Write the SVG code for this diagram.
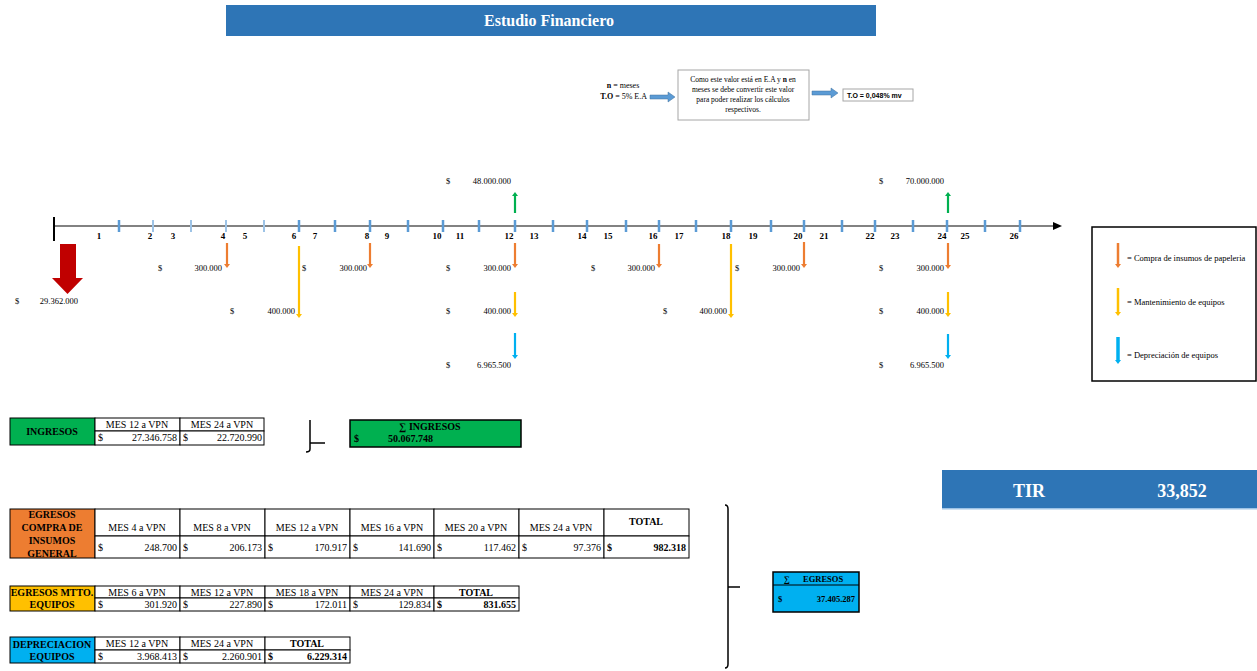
<svg xmlns="http://www.w3.org/2000/svg" width="1257" height="671" viewBox="0 0 1257 671">
<style>
text{font-family:"Liberation Serif","Times New Roman",serif;fill:#000}
.tk{stroke:#5b9bd5;stroke-width:2.5}
.tkl{stroke:#9dc3e6;stroke-width:2}
.num{font-size:9px;font-weight:bold;text-anchor:middle}
.m{font-size:8.5px}
.e{text-anchor:end}
.c{text-anchor:middle}
.cell{fill:#fff;stroke:#000;stroke-width:1}
.th{font-size:10px;text-anchor:middle}
.b{font-weight:bold}
.lg{font-size:8.5px}
</style>
<defs>
<marker id="ho" markerWidth="5" markerHeight="6" refX="1" refY="3" orient="auto" markerUnits="userSpaceOnUse"><path d="M0,0 L4,3 L0,6 Z" fill="#ed7d31"/></marker>
<marker id="hy" markerWidth="5" markerHeight="6" refX="1" refY="3" orient="auto" markerUnits="userSpaceOnUse"><path d="M0,0 L4,3 L0,6 Z" fill="#ffc000"/></marker>
<marker id="hb" markerWidth="5" markerHeight="6" refX="1" refY="3" orient="auto" markerUnits="userSpaceOnUse"><path d="M0,0 L4,3 L0,6 Z" fill="#00b0f0"/></marker>
<marker id="hg" markerWidth="5" markerHeight="6" refX="1" refY="3" orient="auto" markerUnits="userSpaceOnUse"><path d="M0,0 L4,3 L0,6 Z" fill="#00b050"/></marker>
</defs>

<g id="title">
<rect x="226" y="5" width="650" height="31" fill="#2e75b6"/>
<text x="549" y="26" font-size="16" font-weight="bold" text-anchor="middle" style="fill:#fff">Estudio Financiero</text>
</g>

<g id="formula">
<text x="623" y="88" font-size="8" text-anchor="middle"><tspan font-weight="bold">n</tspan> = meses</text>
<text x="647" y="99" font-size="8" text-anchor="end"><tspan font-weight="bold">T.O</tspan> = 5% E.A</text>
<path d="M650,95 L668,95 L668,92 L675,97 L668,102 L668,99 L650,99 Z" fill="#5b9bd5" stroke="#41719c" stroke-width="0.5"/>
<rect x="678" y="70" width="131" height="50" fill="#fff" stroke="#a6a6a6" stroke-width="1"/>
<text x="743" y="82" font-size="7.5" text-anchor="middle">Como este valor está en E.A y <tspan font-weight="bold">n</tspan> en</text>
<text x="743" y="92" font-size="7.5" text-anchor="middle">meses se debe convertir este valor</text>
<text x="743" y="102" font-size="7.5" text-anchor="middle">para poder realizar  los cálculos</text>
<text x="743" y="112" font-size="7.5" text-anchor="middle">respectivos.</text>
<path d="M812,91 L831,91 L831,88 L838,93 L831,98 L831,95 L812,95 Z" fill="#5b9bd5" stroke="#41719c" stroke-width="0.5"/>
<rect x="843" y="89" width="70" height="12" fill="#fff" stroke="#a6a6a6" stroke-width="1"/>
<text x="847" y="98" font-size="7" font-weight="bold" style="font-family:'Liberation Sans',Arial,sans-serif">T.O = 0,048% mv</text>
</g>

<g id="timeline">
<line x1="54" y1="226" x2="1054" y2="226" stroke="#595959" stroke-width="1.5"/>
<path d="M1053,222 L1062,226 L1053,230 Z" fill="#000"/>
<line x1="54" y1="217" x2="54" y2="241" stroke="#000" stroke-width="2"/>
<g>
<line class="tk" x1="119" y1="220" x2="119" y2="232"/>
<line class="tkl" x1="153" y1="220" x2="153" y2="232"/>
<line class="tkl" x1="191" y1="220" x2="191" y2="232"/>
<line class="tkl" x1="226" y1="220" x2="226" y2="232"/>
<line class="tkl" x1="264" y1="220" x2="264" y2="232"/>
<line class="tk" x1="299" y1="220" x2="299" y2="232"/>
<line class="tk" x1="335" y1="220" x2="335" y2="232"/>
<line class="tk" x1="370" y1="220" x2="370" y2="232"/>
<line class="tk" x1="408" y1="220" x2="408" y2="232"/>
<line class="tk" x1="443" y1="220" x2="443" y2="232"/>
<line class="tk" x1="479" y1="220" x2="479" y2="232"/>
<line class="tk" x1="515" y1="220" x2="515" y2="232"/>
<line class="tk" x1="553" y1="220" x2="553" y2="232"/>
<line class="tk" x1="587" y1="220" x2="587" y2="232"/>
<line class="tk" x1="626" y1="220" x2="626" y2="232"/>
<line class="tk" x1="659" y1="220" x2="659" y2="232"/>
<line class="tk" x1="696" y1="220" x2="696" y2="232"/>
<line class="tk" x1="731" y1="220" x2="731" y2="232"/>
<line class="tk" x1="771" y1="220" x2="771" y2="232"/>
<line class="tk" x1="804" y1="220" x2="804" y2="232"/>
<line class="tk" x1="842" y1="220" x2="842" y2="232"/>
<line class="tk" x1="875" y1="220" x2="875" y2="232"/>
<line class="tk" x1="913" y1="220" x2="913" y2="232"/>
<line class="tk" x1="947" y1="220" x2="947" y2="232"/>
<line class="tk" x1="985" y1="220" x2="985" y2="232"/>
<line class="tk" x1="1020" y1="220" x2="1020" y2="232"/>
</g>
<g>
<text class="num" x="99" y="239">1</text>
<text class="num" x="150" y="239">2</text>
<text class="num" x="173" y="239">3</text>
<text class="num" x="223" y="239">4</text>
<text class="num" x="245" y="239">5</text>
<text class="num" x="294" y="239">6</text>
<text class="num" x="315" y="239">7</text>
<text class="num" x="367" y="239">8</text>
<text class="num" x="387" y="239">9</text>
<text class="num" x="437" y="239">10</text>
<text class="num" x="460" y="239">11</text>
<text class="num" x="509" y="239">12</text>
<text class="num" x="534" y="239">13</text>
<text class="num" x="582" y="239">14</text>
<text class="num" x="608" y="239">15</text>
<text class="num" x="653" y="239">16</text>
<text class="num" x="679" y="239">17</text>
<text class="num" x="726" y="239">18</text>
<text class="num" x="753" y="239">19</text>
<text class="num" x="798" y="239">20</text>
<text class="num" x="824" y="239">21</text>
<text class="num" x="870" y="239">22</text>
<text class="num" x="895" y="239">23</text>
<text class="num" x="942" y="239">24</text>
<text class="num" x="965" y="239">25</text>
<text class="num" x="1014" y="239">26</text>
</g>
</g>

<g id="connectors" stroke-width="2.2">
<path d="M60,244 L76,244 L76,278 L83,278 L67.5,294 L52,278 L60,278 Z" fill="#c00000" stroke="none"/>
<line x1="515" y1="213" x2="515" y2="195" stroke="#00b050" marker-end="url(#hg)"/>
<line x1="948" y1="213" x2="948" y2="195" stroke="#00b050" marker-end="url(#hg)"/>
<line x1="227" y1="243" x2="227" y2="265" stroke="#ed7d31" marker-end="url(#ho)"/>
<line x1="370" y1="243" x2="370" y2="265" stroke="#ed7d31" marker-end="url(#ho)"/>
<line x1="515" y1="243" x2="515" y2="265" stroke="#ed7d31" marker-end="url(#ho)"/>
<line x1="659" y1="244" x2="659" y2="265" stroke="#ed7d31" marker-end="url(#ho)"/>
<line x1="804" y1="242" x2="804" y2="265" stroke="#ed7d31" marker-end="url(#ho)"/>
<line x1="948" y1="243" x2="948" y2="266" stroke="#ed7d31" marker-end="url(#ho)"/>
<line x1="299" y1="246" x2="299" y2="315" stroke="#ffc000" marker-end="url(#hy)"/>
<line x1="731" y1="244" x2="731" y2="315" stroke="#ffc000" marker-end="url(#hy)"/>
<line x1="515" y1="292" x2="515" y2="314" stroke="#ffc000" marker-end="url(#hy)"/>
<line x1="948" y1="292" x2="948" y2="314" stroke="#ffc000" marker-end="url(#hy)"/>
<line x1="515" y1="333" x2="515" y2="356" stroke="#00b0f0" marker-end="url(#hb)"/>
<line x1="948" y1="334" x2="948" y2="356" stroke="#00b0f0" marker-end="url(#hb)"/>
</g>

<g id="cashflow-labels">
<text class="m" x="15" y="304">$</text><text class="m e" x="78" y="304">29.362.000</text>
<text class="m" x="446" y="184">$</text><text class="m e" x="511" y="184">48.000.000</text>
<text class="m" x="879" y="184">$</text><text class="m e" x="944" y="184">70.000.000</text>
<text class="m" x="158" y="271">$</text><text class="m e" x="222" y="271">300.000</text>
<text class="m" x="302" y="271">$</text><text class="m e" x="367" y="271">300.000</text>
<text class="m" x="446" y="271">$</text><text class="m e" x="511" y="271">300.000</text>
<text class="m" x="591" y="271">$</text><text class="m e" x="655" y="271">300.000</text>
<text class="m" x="735" y="271">$</text><text class="m e" x="800" y="271">300.000</text>
<text class="m" x="879" y="271">$</text><text class="m e" x="944" y="271">300.000</text>
<text class="m" x="230" y="314">$</text><text class="m e" x="295" y="314">400.000</text>
<text class="m" x="446" y="314">$</text><text class="m e" x="511" y="314">400.000</text>
<text class="m" x="663" y="314">$</text><text class="m e" x="727" y="314">400.000</text>
<text class="m" x="879" y="314">$</text><text class="m e" x="944" y="314">400.000</text>
<text class="m" x="446" y="368">$</text><text class="m e" x="511" y="368">6.965.500</text>
<text class="m" x="879" y="368">$</text><text class="m e" x="944" y="368">6.965.500</text>
</g>

<g id="legend">
<rect x="1092" y="227" width="164" height="154" fill="#fff" stroke="#000" stroke-width="1.5"/>
<line x1="1118" y1="243" x2="1118" y2="265" stroke="#ed7d31" stroke-width="2.5" marker-end="url(#ho)"/>
<text class="lg" x="1127" y="261">= Compra de insumos de papeleria</text>
<line x1="1118" y1="288" x2="1118" y2="313" stroke="#ffc000" stroke-width="2.5" marker-end="url(#hy)"/>
<text class="lg" x="1127" y="305">= Mantenimiento de equipos</text>
<line x1="1118" y1="337" x2="1118" y2="361" stroke="#00b0f0" stroke-width="3.5" marker-end="url(#hb)"/>
<text class="lg" x="1127" y="358">= Depreciación de equipos</text>
</g>

<g id="ingresos">
<rect x="10" y="418" width="85" height="27" fill="#00b050" stroke="#000"/>
<text class="th b" x="52" y="435">INGRESOS</text>
<rect class="cell" x="95" y="418" width="85" height="13"/>
<rect class="cell" x="180" y="418" width="84" height="13"/>
<rect class="cell" x="95" y="431" width="85" height="14"/>
<rect class="cell" x="180" y="431" width="84" height="14"/>
<text class="th" x="137" y="428">MES 12 a VPN</text>
<text class="th" x="222" y="428">MES 24 a VPN</text>
<text x="98" y="441" font-size="10">$</text><text x="177" y="441" font-size="10" text-anchor="end">27.346.758</text>
<text x="183" y="441" font-size="10">$</text><text x="262" y="441" font-size="10" text-anchor="end">22.720.990</text>
</g>

<g id="bracket-ingresos" fill="none" stroke="#000" stroke-width="1.5">
<path d="M310,420 L310,449 Q310,452 306,452"/>
<path d="M310,443 L325,443"/>
</g>

<g id="suma-ingresos">
<rect x="350" y="420" width="171" height="27" fill="#00b050" stroke="#000" stroke-width="1.5"/>
<text class="th b" x="430" y="430">∑ INGRESOS</text>
<text x="354" y="442" font-size="10" font-weight="bold">$</text>
<text x="388" y="442" font-size="10" font-weight="bold">50.067.748</text>
</g>

<g id="egresos-compra">
<rect x="10" y="509" width="85" height="49" fill="#ed7d31" stroke="#000"/>
<text class="th b" x="52" y="518">EGRESOS</text>
<text class="th b" x="52" y="531">COMPRA DE</text>
<text class="th b" x="52" y="544">INSUMOS</text>
<text class="th b" x="52" y="557">GENERAL</text>
<rect class="cell" x="95" y="509" width="85" height="27"/>
<rect class="cell" x="180" y="509" width="85" height="27"/>
<rect class="cell" x="265" y="509" width="85" height="27"/>
<rect class="cell" x="350" y="509" width="84" height="27"/>
<rect class="cell" x="434" y="509" width="85" height="27"/>
<rect class="cell" x="519" y="509" width="85" height="27"/>
<rect class="cell" x="604" y="509" width="85" height="27"/>
<rect class="cell" x="95" y="536" width="85" height="22"/>
<rect class="cell" x="180" y="536" width="85" height="22"/>
<rect class="cell" x="265" y="536" width="85" height="22"/>
<rect class="cell" x="350" y="536" width="84" height="22"/>
<rect class="cell" x="434" y="536" width="85" height="22"/>
<rect class="cell" x="519" y="536" width="85" height="22"/>
<rect class="cell" x="604" y="536" width="85" height="22"/>
<text class="th" x="137" y="531">MES 4 a VPN</text>
<text class="th" x="222" y="531">MES 8 a VPN</text>
<text class="th" x="307" y="531">MES 12 a VPN</text>
<text class="th" x="392" y="531">MES 16 a VPN</text>
<text class="th" x="476" y="531">MES 20 a VPN</text>
<text class="th" x="561" y="531">MES 24 a VPN</text>
<text class="th b" x="646" y="525">TOTAL</text>
<text x="98" y="551" font-size="10">$</text><text x="177" y="551" font-size="10" text-anchor="end">248.700</text>
<text x="183" y="551" font-size="10">$</text><text x="262" y="551" font-size="10" text-anchor="end">206.173</text>
<text x="268" y="551" font-size="10">$</text><text x="347" y="551" font-size="10" text-anchor="end">170.917</text>
<text x="353" y="551" font-size="10">$</text><text x="431" y="551" font-size="10" text-anchor="end">141.690</text>
<text x="437" y="551" font-size="10">$</text><text x="516" y="551" font-size="10" text-anchor="end">117.462</text>
<text x="522" y="551" font-size="10">$</text><text x="601" y="551" font-size="10" text-anchor="end">97.376</text>
<text x="607" y="551" font-size="10" font-weight="bold">$</text><text x="686" y="551" font-size="10" font-weight="bold" text-anchor="end">982.318</text>
</g>

<g id="egresos-mtto">
<rect x="10" y="586" width="85" height="25" fill="#ffc000" stroke="#000"/>
<text class="th b" x="52" y="596">EGRESOS MTTO.</text>
<text class="th b" x="52" y="608">EQUIPOS</text>
<rect class="cell" x="95" y="586" width="85" height="12"/>
<rect class="cell" x="180" y="586" width="85" height="12"/>
<rect class="cell" x="265" y="586" width="85" height="12"/>
<rect class="cell" x="350" y="586" width="84" height="12"/>
<rect class="cell" x="434" y="586" width="85" height="12"/>
<rect class="cell" x="95" y="598" width="85" height="13"/>
<rect class="cell" x="180" y="598" width="85" height="13"/>
<rect class="cell" x="265" y="598" width="85" height="13"/>
<rect class="cell" x="350" y="598" width="84" height="13"/>
<rect class="cell" x="434" y="598" width="85" height="13"/>
<text class="th" x="137" y="596">MES 6 a VPN</text>
<text class="th" x="222" y="596">MES 12 a VPN</text>
<text class="th" x="307" y="596">MES 18 a VPN</text>
<text class="th" x="392" y="596">MES 24 a VPN</text>
<text class="th b" x="476" y="596">TOTAL</text>
<text x="98" y="608" font-size="10">$</text><text x="177" y="608" font-size="10" text-anchor="end">301.920</text>
<text x="183" y="608" font-size="10">$</text><text x="262" y="608" font-size="10" text-anchor="end">227.890</text>
<text x="268" y="608" font-size="10">$</text><text x="347" y="608" font-size="10" text-anchor="end">172.011</text>
<text x="353" y="608" font-size="10">$</text><text x="431" y="608" font-size="10" text-anchor="end">129.834</text>
<text x="437" y="608" font-size="10" font-weight="bold">$</text><text x="516" y="608" font-size="10" font-weight="bold" text-anchor="end">831.655</text>
</g>

<g id="depreciacion">
<rect x="10" y="637" width="85" height="26" fill="#00b0f0" stroke="#000"/>
<text class="th b" x="52" y="648">DEPRECIACION</text>
<text class="th b" x="52" y="660">EQUIPOS</text>
<rect class="cell" x="95" y="637" width="85" height="13"/>
<rect class="cell" x="180" y="637" width="85" height="13"/>
<rect class="cell" x="265" y="637" width="85" height="13"/>
<rect class="cell" x="95" y="650" width="85" height="13"/>
<rect class="cell" x="180" y="650" width="85" height="13"/>
<rect class="cell" x="265" y="650" width="85" height="13"/>
<text class="th" x="137" y="647">MES 12 a VPN</text>
<text class="th" x="222" y="647">MES 24 a VPN</text>
<text class="th b" x="307" y="647">TOTAL</text>
<text x="98" y="660" font-size="10">$</text><text x="177" y="660" font-size="10" text-anchor="end">3.968.413</text>
<text x="183" y="660" font-size="10">$</text><text x="262" y="660" font-size="10" text-anchor="end">2.260.901</text>
<text x="268" y="660" font-size="10" font-weight="bold">$</text><text x="347" y="660" font-size="10" font-weight="bold" text-anchor="end">6.229.314</text>
</g>

<g id="bracket-egresos" fill="none" stroke="#000" stroke-width="1.5">
<path d="M725,505 Q728,505 728,509 L728,664 Q728,668 725,668"/>
<path d="M728,587 L740,587"/>
</g>

<g id="suma-egresos">
<rect x="773" y="572" width="86" height="40" fill="#00b0f0" stroke="#000" stroke-width="1.5"/>
<line x1="773" y1="585" x2="859" y2="585" stroke="#000" stroke-width="1.2"/>
<text x="784" y="582" font-size="8.5" font-weight="bold">∑</text>
<text x="803" y="582" font-size="8.5" font-weight="bold">EGRESOS</text>
<text x="778" y="602" font-size="8.5" font-weight="bold">$</text>
<text x="855" y="602" font-size="8.5" font-weight="bold" text-anchor="end">37.405.287</text>
</g>

<g id="tir">
<rect x="942" y="470" width="315" height="39" fill="#2e75b6"/>
<rect x="942" y="508" width="315" height="1.5" fill="#9dc3e6"/>
<text x="1029" y="497" font-size="18" font-weight="bold" text-anchor="middle" style="fill:#fff">TIR</text>
<text x="1182" y="497" font-size="18" font-weight="bold" text-anchor="middle" style="fill:#fff">33,852</text>
</g>
</svg>
